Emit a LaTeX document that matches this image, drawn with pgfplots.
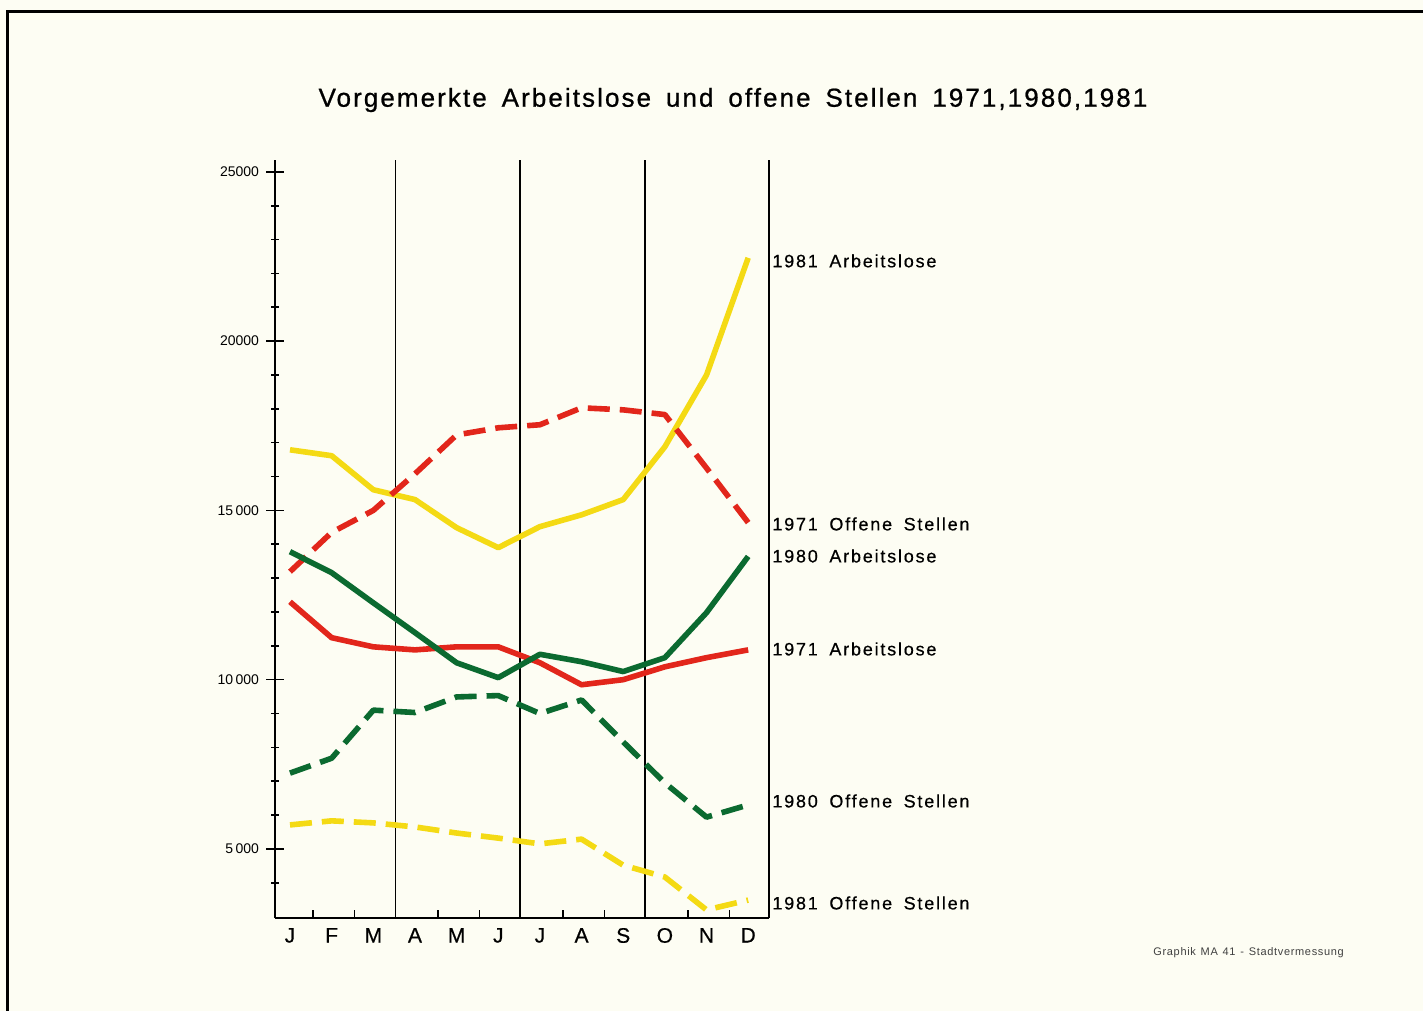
\documentclass[border=0pt]{standalone}
\usepackage{pgfplots}
\pgfplotsset{compat=1.18}
\usepackage{fontspec}
\setmainfont{Liberation Sans}
\newfontfamily\spaced[LetterSpace=10,WordSpace=1.7,FakeBold=0.5]{Liberation Sans}
\newfontfamily\footfont[LetterSpace=6,WordSpace=1.3]{Liberation Sans}
\newfontfamily\titlefont[LetterSpace=8,WordSpace=1.6,FakeBold=0.8]{Liberation Sans}
\newfontfamily\monthfont[FakeBold=0.5]{Liberation Sans}
\definecolor{bg}{HTML}{FDFDF3}
\definecolor{cy}{HTML}{F4DA14}
\definecolor{cr}{HTML}{E2261B}
\definecolor{cg}{HTML}{0B6A30}
\begin{document}
\begin{tikzpicture}
\fill[bg] (0,0) rectangle (711.5pt,-505.5pt);
\useasboundingbox (0,0) rectangle (711.5pt,-505.5pt);
\draw[line width=1.5pt] (3.5pt,-506pt) -- (3.5pt,-6pt) -- (712pt,-6pt);
\node at (366.5pt,-50pt) {\fontsize{13}{15}\titlefont Vorgemerkte Arbeitslose und offene Stellen 1971,1980,1981};
\node[anchor=west, inner sep=0, text=black!75] at (576.5pt,-476.5pt) {\fontsize{5.5}{6}\footfont Graphik MA 41 - Stadtvermessung};
\begin{axis}[
  at={(137.5pt,-459pt)}, anchor=south west, scale only axis,
  width=247pt, height=379pt,
  xmin=-0.36, xmax=11.5, ymin=2960, ymax=25350,
  axis x line=bottom, axis y line=left,
  axis line style={-, line width=0.9pt},
  clip=false, scaled y ticks=false,
  xtick={0,...,11}, xticklabels={J,F,M,A,M,J,J,A,S,O,N,D},
  minor xtick={0.55,1.55,3.55,4.55,6.55,7.55,9.55,10.55},
  ytick={5000,10000,15000,20000,25000},
  yticklabels={5\,000,10\,000,15\,000,20000,25000},
  minor ytick={4000,6000,7000,8000,9000,11000,12000,13000,14000,16000,17000,18000,19000,21000,22000,23000,24000},
  tick align=center, major tick length=9pt, minor tick length=4pt,
  tick style={black, line width=0.8pt},
  every major x tick/.style={draw=none},
  every minor x tick/.style={yshift=2pt},
  extra x ticks={2.53,5.52,8.52,11.5}, extra x tick labels={},
  extra x tick style={grid=major, major grid style={black, line width=0.75pt}},
  xticklabel style={font=\fontsize{10.5}{12}\monthfont, yshift=3pt},
  yticklabel style={font=\fontsize{7}{8}\selectfont},
  every axis plot/.append style={line width=2.8pt, line join=round},
  ]
% 1981 Arbeitslose
\addplot[cy] coordinates {(0,16790)(1,16615)(2,15610)(3,15320)(4,14490)(5,13900)(6,14520)(7,14870)(8,15320)(9,16880)(10,19000)(11,22460)};
% 1981 Offene Stellen
\addplot[cy, dash pattern=on 11pt off 5pt] coordinates {(0,5710)(1,5830)(2,5770)(3,5650)(4,5470)(5,5320)(6,5150)(7,5290)(8,4520)(9,4170)(10,3200)(11,3490)};
% 1971 Offene Stellen
\addplot[cr, dash pattern=on 11pt off 5pt] coordinates {(0,13190)(1,14350)(2,15000)(3,16080)(4,17230)(5,17440)(6,17530)(7,18030)(8,17970)(9,17830)(10,16250)(11,14640)};
% 1971 Arbeitslose
\addplot[cr] coordinates {(0,12300)(1,11240)(2,10970)(3,10880)(4,10970)(5,10970)(6,10500)(7,9850)(8,10000)(9,10380)(10,10650)(11,10880)};
% 1980 Arbeitslose
\addplot[cg] coordinates {(0,13780)(1,13160)(2,12270)(3,11390)(4,10500)(5,10060)(6,10750)(7,10530)(8,10240)(9,10650)(10,11980)(11,13640)};
% 1980 Offene Stellen
\addplot[cg, dash pattern=on 11pt off 5pt] coordinates {(0,7240)(1,7680)(2,9100)(3,9030)(4,9490)(5,9530)(6,9000)(7,9400)(8,8160)(9,6950)(10,5940)(11,6300)};
\begin{scope}[every node/.style={anchor=west, inner sep=0, xshift=1.5pt, font=\fontsize{9}{10}\spaced}]
\node at (axis cs:11.5,22370) {1981 Arbeitslose};
\node at (axis cs:11.5,14600) {1971 Offene Stellen};
\node at (axis cs:11.5,13654) {1980 Arbeitslose};
\node at (axis cs:11.5,10907) {1971 Arbeitslose};
\node at (axis cs:11.5,6416) {1980 Offene Stellen};
\node at (axis cs:11.5,3403) {1981 Offene Stellen};
\end{scope}
\end{axis}
\end{tikzpicture}
\end{document}
